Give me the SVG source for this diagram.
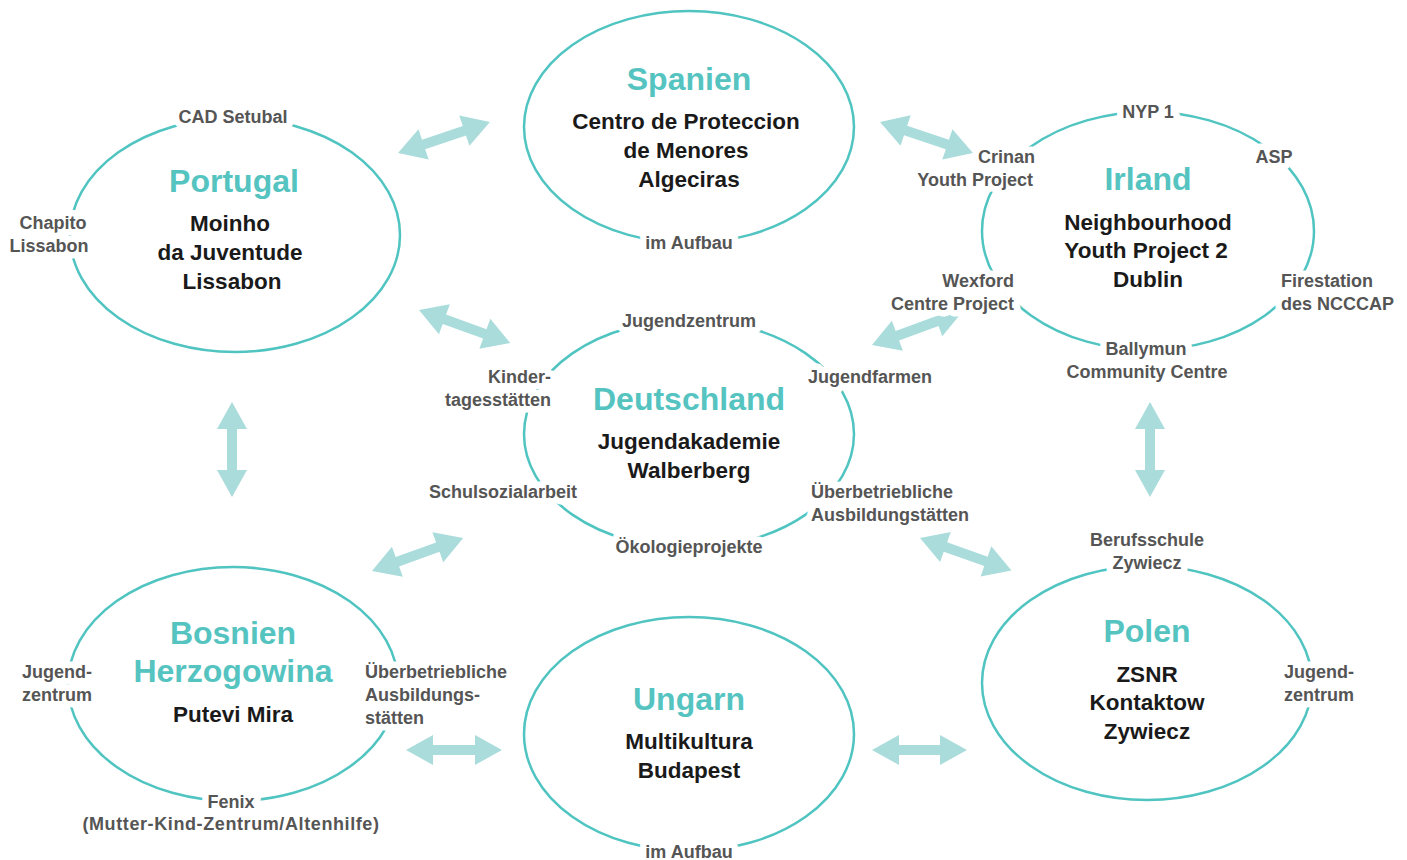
<svg xmlns="http://www.w3.org/2000/svg" width="1407" height="860" viewBox="0 0 1407 860">
<style>
.ring{fill:none;stroke:#4fc4c1;stroke-width:2.5}
.arr{fill:#aadcdc}
.title{font-family:"Liberation Sans",Arial,sans-serif;font-weight:bold;font-size:32px;fill:#55c4c1;text-anchor:middle}
.sub{font-family:"Liberation Sans",Arial,sans-serif;font-weight:bold;font-size:22.5px;fill:#1a1a1a;text-anchor:middle}
.lab{font-family:"Liberation Sans",Arial,sans-serif;font-weight:bold;font-size:18px;fill:#555;stroke:#fff;stroke-width:13;stroke-linejoin:round;paint-order:stroke}
.c{text-anchor:middle}.e{text-anchor:end}.s{text-anchor:start}
</style>
<rect width="1407" height="860" fill="#fff"/>
<g id="connectors">
<path class="arr" transform="translate(398,153) rotate(-18.6)" d="M0,0 L27,-16 L27,-5 L70,-5 L70,-16 L97,0 L70,16 L70,5 L27,5 L27,16 Z"/>
<path class="arr" transform="translate(880,122) rotate(18.4)" d="M0,0 L27,-16 L27,-5 L71,-5 L71,-16 L98,0 L71,16 L71,5 L27,5 L27,16 Z"/>
<path class="arr" transform="translate(419,310) rotate(19.9)" d="M0,0 L27,-16 L27,-5 L70,-5 L70,-16 L97,0 L70,16 L70,5 L27,5 L27,16 Z"/>
<path class="arr" transform="translate(872,345) rotate(-20.1)" d="M0,0 L27,-16 L27,-5 L69,-5 L69,-16 L96,0 L69,16 L69,5 L27,5 L27,16 Z"/>
<path class="arr" transform="translate(232,402) rotate(90)" d="M0,0 L27,-15 L27,-5 L68,-5 L68,-15 L95,0 L68,15 L68,5 L27,5 L27,15 Z"/>
<path class="arr" transform="translate(1150,402) rotate(90)" d="M0,0 L27,-15 L27,-5 L68,-5 L68,-15 L95,0 L68,15 L68,5 L27,5 L27,15 Z"/>
<path class="arr" transform="translate(372,571) rotate(-19.9)" d="M0,0 L27,-16 L27,-5 L70,-5 L70,-16 L97,0 L70,16 L70,5 L27,5 L27,16 Z"/>
<path class="arr" transform="translate(920,538) rotate(19.5)" d="M0,0 L27,-16 L27,-5 L70,-5 L70,-16 L97,0 L70,16 L70,5 L27,5 L27,16 Z"/>
<path class="arr" transform="translate(406,750)" d="M0,0 L27,-15 L27,-5 L69,-5 L69,-15 L96,0 L69,15 L69,5 L27,5 L27,15 Z"/>
<path class="arr" transform="translate(872,750)" d="M0,0 L27,-15 L27,-5 L68,-5 L68,-15 L95,0 L68,15 L68,5 L27,5 L27,15 Z"/>
</g>
<g id="portugal">
<ellipse class="ring" cx="235" cy="235" rx="165" ry="117"/>
<text class="title" x="234" y="192">Portugal</text>
<text class="sub" x="230" y="231">Moinho</text>
<text class="sub" x="230" y="260">da Juventude</text>
<text class="sub" x="232" y="289">Lissabon</text>
<text class="lab c" x="233" y="123">CAD Setubal</text>
<text class="lab c" x="53" y="229">Chapito</text>
<text class="lab c" x="49" y="252">Lissabon</text>
</g>
<g id="spanien">
<ellipse class="ring" cx="689" cy="127" rx="165" ry="116"/>
<text class="title" x="689" y="90">Spanien</text>
<text class="sub" x="686" y="129">Centro de Proteccion</text>
<text class="sub" x="686" y="158">de Menores</text>
<text class="sub" x="689" y="187">Algeciras</text>
<text class="lab c" x="689" y="249">im Aufbau</text>
</g>
<g id="irland">
<ellipse class="ring" cx="1148" cy="231" rx="166" ry="119"/>
<text class="title" x="1148" y="190">Irland</text>
<text class="sub" x="1148" y="230">Neighbourhood</text>
<text class="sub" x="1146" y="258">Youth Project 2</text>
<text class="sub" x="1148" y="287">Dublin</text>
<text class="lab c" x="1148" y="118">NYP 1</text>
<text class="lab e" x="1035" y="163">Crinan</text>
<text class="lab e" x="1033" y="186">Youth Project</text>
<text class="lab c" x="1274" y="163">ASP</text>
<text class="lab e" x="1014" y="287">Wexford</text>
<text class="lab e" x="1014" y="310">Centre Project</text>
<text class="lab s" x="1281" y="287">Firestation</text>
<text class="lab s" x="1281" y="310">des NCCCAP</text>
<text class="lab c" x="1146" y="355">Ballymun</text>
<text class="lab c" x="1147" y="378">Community Centre</text>
</g>
<g id="deutschland">
<ellipse class="ring" cx="689" cy="434" rx="165" ry="114"/>
<text class="title" x="689" y="410">Deutschland</text>
<text class="sub" x="689" y="449">Jugendakademie</text>
<text class="sub" x="689" y="478">Walberberg</text>
<text class="lab c" x="689" y="327">Jugendzentrum</text>
<text class="lab e" x="551" y="383">Kinder-</text>
<text class="lab e" x="551" y="406">tagesstätten</text>
<text class="lab s" x="808" y="383">Jugendfarmen</text>
<text class="lab c" x="503" y="498">Schulsozialarbeit</text>
<text class="lab s" x="811" y="498">Überbetriebliche</text>
<text class="lab s" x="811" y="521">Ausbildungstätten</text>
<text class="lab c" x="689" y="553">Ökologieprojekte</text>
</g>
<g id="bosnien">
<ellipse class="ring" cx="233" cy="684" rx="165" ry="117"/>
<text class="title" x="233" y="644">Bosnien</text>
<text class="title" x="233" y="682">Herzogowina</text>
<text class="sub" x="233" y="722">Putevi Mira</text>
<text class="lab s" x="22" y="678">Jugend-</text>
<text class="lab s" x="22" y="701">zentrum</text>
<text class="lab s" x="365" y="678">Überbetriebliche</text>
<text class="lab s" x="365" y="701">Ausbildungs-</text>
<text class="lab s" x="365" y="724">stätten</text>
<text class="lab c" x="231" y="808">Fenix</text>
<text class="lab c" x="231" y="830" letter-spacing="0.6">(Mutter-Kind-Zentrum/Altenhilfe)</text>
</g>
<g id="ungarn">
<ellipse class="ring" cx="689" cy="734" rx="165" ry="117"/>
<text class="title" x="689" y="710">Ungarn</text>
<text class="sub" x="689" y="749">Multikultura</text>
<text class="sub" x="689" y="778">Budapest</text>
<text class="lab c" x="689" y="858">im Aufbau</text>
</g>
<g id="polen">
<ellipse class="ring" cx="1147" cy="683" rx="165" ry="117"/>
<text class="title" x="1147" y="642">Polen</text>
<text class="sub" x="1147" y="682">ZSNR</text>
<text class="sub" x="1147" y="710">Kontaktow</text>
<text class="sub" x="1147" y="739">Zywiecz</text>
<text class="lab c" x="1147" y="546">Berufsschule</text>
<text class="lab c" x="1147" y="569">Zywiecz</text>
<text class="lab s" x="1284" y="678">Jugend-</text>
<text class="lab s" x="1284" y="701">zentrum</text>
</g>
</svg>
